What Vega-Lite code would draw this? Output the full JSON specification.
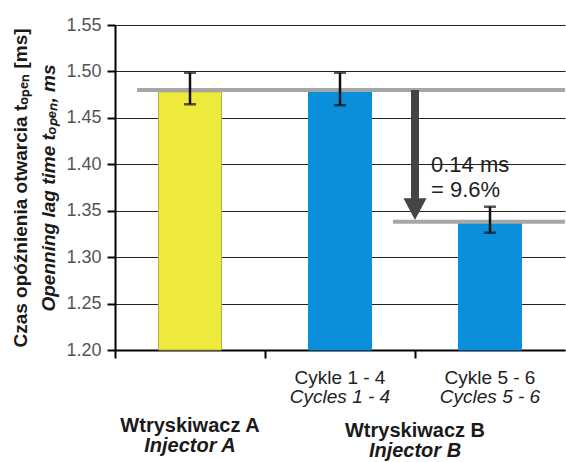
{
  "$schema": "https://vega.github.io/schema/vega-lite/v6.json",
  "width": 450,
  "height": 325,
  "autosize": {"type": "none"},
  "padding": {"left": 115, "top": 25, "right": 1, "bottom": 112},
  "config": {"view": {"stroke": null}, "font": "Liberation Sans"},
  "datasets": {
    "bars": [
      {"cat": "A", "injector": "A", "value": 1.478, "lo": 1.4646, "hi": 1.4986},
      {"cat": "B2", "injector": "B", "value": 1.478, "lo": 1.4636, "hi": 1.4986},
      {"cat": "B3", "injector": "B", "value": 1.337, "lo": 1.3263, "hi": 1.3543}
    ],
    "levels": [
      {"series": "before", "level": 1.48},
      {"series": "after", "level": 1.338}
    ],
    "diff": [{"from": 1.48, "to": 1.34, "label": "0.14 ms\n= 9.6%"}],
    "cycles": [
      {"cat": "B2", "pl": "Cykle 1 - 4", "en": "Cycles 1 - 4"},
      {"cat": "B3", "pl": "Cykle 5 - 6", "en": "Cycles 5 - 6"}
    ],
    "groups": [
      {"group": "A", "pl": "Wtryskiwacz A", "en": "Injector A"},
      {"group": "B", "pl": "Wtryskiwacz B", "en": "Injector B"}
    ]
  },
  "resolve": {"axis": {"y": "independent"}},
  "layer": [
    {
      "data": {"name": "bars"},
      "mark": {"type": "bar", "width": {"band": 0.42}, "strokeWidth": 1},
      "encoding": {
        "x": {
          "field": "cat", "type": "nominal",
          "scale": {"domain": ["A", "B2", "B3"], "paddingInner": 0, "paddingOuter": 0},
          "axis": {"title": null, "labels": false, "bandPosition": 0, "tickSize": 8, "tickWidth": 2, "tickColor": "#000", "domainColor": "#000", "domainWidth": 2, "grid": false}
        },
        "y": {
          "field": "value", "type": "quantitative",
          "scale": {"domain": [1.2, 1.55], "nice": false, "zero": false},
          "axis": {
            "orient": "left",
            "title": "Openning lag time tₒₚₑₙ, ms",
            "titleFontStyle": "italic", "titleFontWeight": "bold", "titleFontSize": 19, "titleColor": "#1a1a1a", "titlePadding": 7,
            "values": [1.2, 1.25, 1.3, 1.35, 1.4, 1.45, 1.5, 1.55], "format": ".2f",
            "labelFontSize": 18, "labelColor": "#555", "labelPadding": 6,
            "tickSize": 8, "tickWidth": 2, "tickColor": "#000",
            "domainColor": "#000", "domainWidth": 2,
            "grid": true, "gridColor": "#222", "gridWidth": 1
          }
        },
        "y2": {"datum": 1.2},
        "fill": {"field": "injector", "type": "nominal", "scale": {"domain": ["A", "B"], "range": ["#EEEA3B", "#0A90DA"]}, "legend": null},
        "stroke": {"field": "injector", "type": "nominal", "scale": {"domain": ["A", "B"], "range": ["#B3B04A", "#0A90DA"]}, "legend": null}
      }
    },
    {
      "data": {"name": "levels"},
      "transform": [{"filter": "datum.series == 'before'"}],
      "mark": {"type": "rule", "color": "#A6A6A6", "strokeWidth": 4},
      "encoding": {
        "x": {"datum": "A", "bandPosition": 0.147},
        "x2": {"datum": "B3", "bandPosition": 1},
        "y": {"field": "level", "type": "quantitative", "axis": null}
      }
    },
    {
      "data": {"name": "levels"},
      "transform": [{"filter": "datum.series == 'after'"}],
      "mark": {"type": "rule", "color": "#A6A6A6", "strokeWidth": 4},
      "encoding": {
        "x": {"datum": "B2", "bandPosition": 0.853},
        "x2": {"datum": "B3", "bandPosition": 1},
        "y": {"field": "level", "type": "quantitative", "axis": null}
      }
    },
    {
      "data": {"name": "bars"},
      "mark": {"type": "rule", "color": "#111", "strokeWidth": 2.5},
      "encoding": {
        "x": {"field": "cat", "type": "nominal"},
        "y": {
          "field": "lo", "type": "quantitative",
          "axis": {
            "orient": "left",
            "title": "Czas opóźnienia otwarcia tₒₚₑₙ [ms]",
            "titleFontWeight": "bold", "titleFontSize": 19, "titleColor": "#1a1a1a", "titlePadding": 85,
            "labels": false, "ticks": false, "domain": false, "grid": false
          }
        },
        "y2": {"field": "hi"}
      }
    },
    {
      "data": {"name": "bars"},
      "mark": {"type": "tick", "color": "#111", "size": 12, "thickness": 2.5},
      "encoding": {
        "x": {"field": "cat", "type": "nominal"},
        "y": {"field": "lo", "type": "quantitative", "axis": null}
      }
    },
    {
      "data": {"name": "bars"},
      "mark": {"type": "tick", "color": "#111", "size": 12, "thickness": 2.5},
      "encoding": {
        "x": {"field": "cat", "type": "nominal"},
        "y": {"field": "hi", "type": "quantitative", "axis": null}
      }
    },
    {
      "data": {"name": "diff"},
      "mark": {"type": "rule", "color": "#444", "strokeWidth": 8},
      "encoding": {
        "x": {"datum": "B3", "bandPosition": 0},
        "y": {"field": "from", "type": "quantitative", "axis": null},
        "y2": {"datum": 1.36}
      }
    },
    {
      "data": {"name": "diff"},
      "mark": {"type": "point", "shape": "M-1,-1.9L1,-1.9L0,0Z", "size": 529, "filled": true, "color": "#444", "opacity": 1},
      "encoding": {
        "x": {"datum": "B3", "bandPosition": 0},
        "y": {"field": "to", "type": "quantitative", "axis": null}
      }
    },
    {
      "data": {"name": "diff"},
      "mark": {"type": "text", "align": "left", "baseline": "middle", "dx": 16, "fontSize": 22, "lineBreak": "\n", "lineHeight": 25, "color": "#222"},
      "encoding": {
        "x": {"datum": "B3", "bandPosition": 0},
        "y": {"datum": 1.3995, "type": "quantitative", "axis": null},
        "text": {"field": "label"}
      }
    },
    {
      "data": {"name": "cycles"},
      "mark": {"type": "text", "baseline": "alphabetic", "dy": 34, "fontSize": 19, "color": "#222"},
      "encoding": {
        "x": {"field": "cat", "type": "nominal"},
        "y": {"datum": 1.2, "type": "quantitative", "axis": null},
        "text": {"field": "pl"}
      }
    },
    {
      "data": {"name": "cycles"},
      "mark": {"type": "text", "baseline": "alphabetic", "dy": 53, "fontSize": 19, "fontStyle": "italic", "color": "#222"},
      "encoding": {
        "x": {"field": "cat", "type": "nominal"},
        "y": {"datum": 1.2, "type": "quantitative", "axis": null},
        "text": {"field": "en"}
      }
    },
    {
      "data": {"name": "groups"},
      "transform": [{"filter": "datum.group == 'A'"}],
      "mark": {"type": "text", "baseline": "alphabetic", "dy": 82, "fontSize": 20, "fontWeight": "bold", "color": "#1a1a1a"},
      "encoding": {
        "x": {"datum": "A"},
        "y": {"datum": 1.2, "type": "quantitative", "axis": null},
        "text": {"field": "pl"}
      }
    },
    {
      "data": {"name": "groups"},
      "transform": [{"filter": "datum.group == 'A'"}],
      "mark": {"type": "text", "baseline": "alphabetic", "dy": 102, "fontSize": 20, "fontWeight": "bold", "fontStyle": "italic", "color": "#1a1a1a"},
      "encoding": {
        "x": {"datum": "A"},
        "y": {"datum": 1.2, "type": "quantitative", "axis": null},
        "text": {"field": "en"}
      }
    },
    {
      "data": {"name": "groups"},
      "transform": [{"filter": "datum.group == 'B'"}],
      "mark": {"type": "text", "baseline": "alphabetic", "dy": 87, "fontSize": 20, "fontWeight": "bold", "color": "#1a1a1a"},
      "encoding": {
        "x": {"datum": "B3", "bandPosition": 0},
        "y": {"datum": 1.2, "type": "quantitative", "axis": null},
        "text": {"field": "pl"}
      }
    },
    {
      "data": {"name": "groups"},
      "transform": [{"filter": "datum.group == 'B'"}],
      "mark": {"type": "text", "baseline": "alphabetic", "dy": 107, "fontSize": 20, "fontWeight": "bold", "fontStyle": "italic", "color": "#1a1a1a"},
      "encoding": {
        "x": {"datum": "B3", "bandPosition": 0},
        "y": {"datum": 1.2, "type": "quantitative", "axis": null},
        "text": {"field": "en"}
      }
    }
  ]
}
